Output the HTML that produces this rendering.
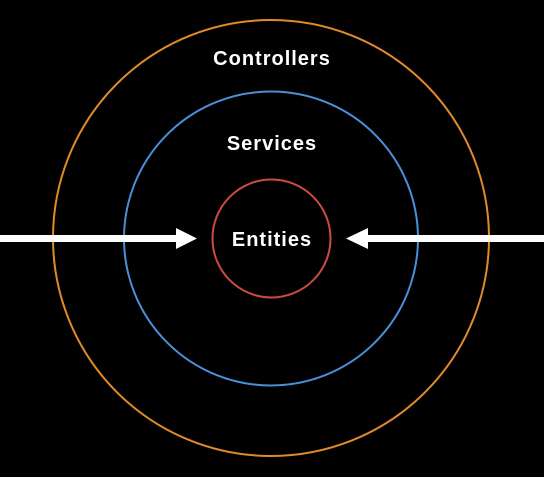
<!DOCTYPE html>
<html><head><style>
html,body{margin:0;padding:0;background:#000;}
</style></head><body>
<svg width="544" height="477" viewBox="0 0 544 477" xmlns="http://www.w3.org/2000/svg" style="display:block">
<rect width="544" height="477" fill="#000"/>
<circle cx="271" cy="238" r="218" fill="none" stroke="#e08a2a" stroke-width="2"/>
<circle cx="271" cy="238.5" r="147" fill="none" stroke="#4a90d9" stroke-width="2"/>
<circle cx="271.5" cy="238.5" r="59" fill="none" stroke="#cc4a44" stroke-width="2"/>
<rect x="0" y="235" width="180" height="7" fill="#fff"/>
<polygon points="176,228 197,238.5 176,249" fill="#fff"/>
<rect x="364" y="235" width="180" height="7" fill="#fff"/>
<polygon points="368,228 346,238.5 368,249" fill="#fff"/>
<g font-family="Liberation Sans, sans-serif" font-weight="bold" fill="#fff" text-anchor="middle" letter-spacing="1">
<text x="272" y="246" font-size="20">Entities</text>
<text x="272" y="150" font-size="20">Services</text>
<text x="272" y="65" font-size="20">Controllers</text>
</g>
</svg>
</body></html>
